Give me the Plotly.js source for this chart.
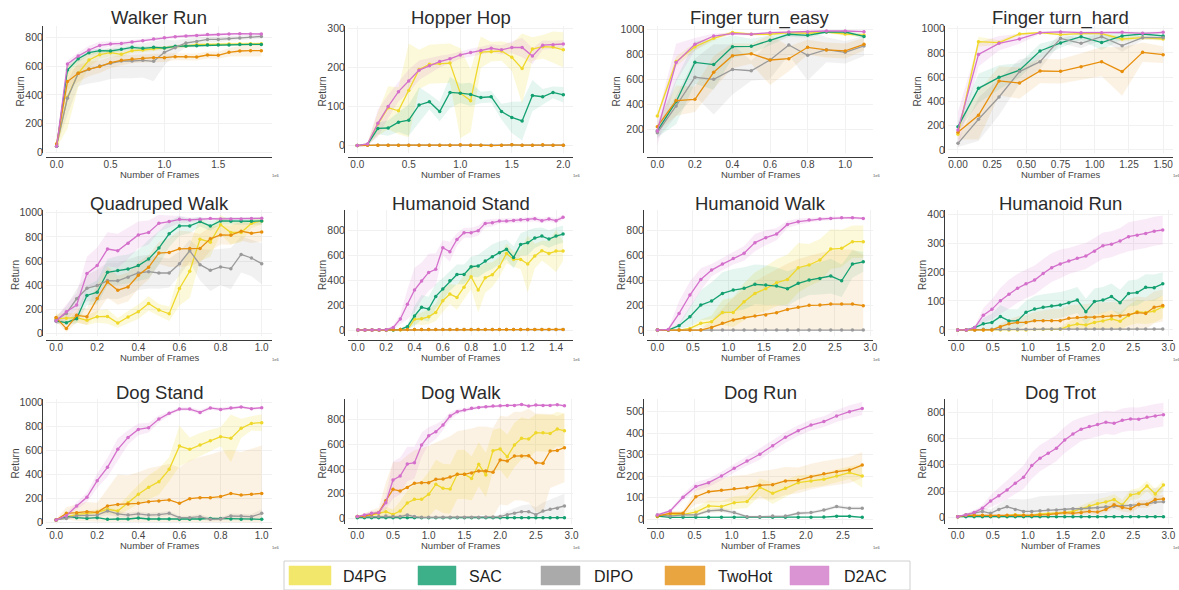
<!DOCTYPE html>
<html><head><meta charset="utf-8">
<script src="https://cdn.plot.ly/plotly-3.0.1.min.js"></script>
<style>html,body{margin:0;padding:0;background:#fff}#chart{width:1179px;height:590px}</style>
</head><body><div id="chart"></div>
<script>
// ---------------- DATA ----------------
const seriesNames = ['D4PG','SAC','DIPO','TwoHot','D2AC'];

// Walker Run
const wr_x = [0,0.1,0.2,0.3,0.4,0.5,0.6,0.7,0.8,0.9,1.0,1.1,1.2,1.3,1.4,1.5,1.6,1.7,1.8,1.9];
const wr_d4pg = [40,384,551,644,681,695,684,709,714,723,728,737,742,751,753,753,756,758,758,758];
const wr_d4pg_sd = [10,220,100,50,30,25,20,15,15,15,12,12,10,10,10,10,10,10,10,10];
const wr_sac = [40,574,653,695,709,707,719,733,726,733,728,740,742,744,749,749,749,753,753,753];
const wr_sac_sd = [10,30,25,20,15,15,12,12,12,10,10,10,10,10,8,8,8,8,8,8];
const wr_dipo = [51,377,551,579,602,621,637,637,642,635,698,730,763,774,788,788,793,798,805,809];
const wr_dipo_sd = [15,120,90,100,110,110,120,120,120,140,90,50,30,25,20,20,15,15,15,15];
const wr_twohot = [58,493,551,581,598,626,642,651,656,660,660,667,667,665,679,677,698,707,709,709];
const wr_twohot_sd = [15,60,60,50,45,40,35,30,30,30,30,25,25,25,25,25,30,35,40,40];
const wr_d2ac = [40,616,672,714,746,756,760,770,779,791,800,807,812,816,823,823,826,828,826,826];
const wr_d2ac_sd = [10,25,25,30,25,20,15,12,12,10,10,10,10,10,10,10,8,8,8,8];

// Hopper Hop
const hh_x = [0,0.1,0.2,0.3,0.4,0.5,0.6,0.7,0.8,0.9,1.0,1.1,1.2,1.3,1.4,1.5,1.6,1.7,1.8,1.9,2.0];
const hh_d4pg = [0,3,55,97,89,141,195,208,210,211,134,115,239,240,242,226,197,247,253,252,245];
const hh_d4pg_sd = [1,5,30,55,60,120,50,50,50,50,115,80,40,25,25,35,90,30,30,40,45];
const hh_sac = [0,3,44,45,60,65,104,112,87,136,134,131,123,125,87,72,63,128,125,136,130];
const hh_sac_sd = [1,4,15,20,25,40,45,20,25,40,25,30,15,15,20,40,50,40,20,15,20];
const hh_dipo = [0,1,1,1,1,1,1,1,1,1,1,1,1,1,1,2,1,1,1,1,1];
const hh_dipo_sd = [1,1,1,1,1,1,1,1,1,1,1,1,1,1,1,1,1,1,1,1,1];
const hh_twohot = [0,1,1,1,1,1,1,1,1,1,2,1,1,0,1,2,1,1,2,1,1];
const hh_twohot_sd = [1,1,1,1,1,1,1,1,1,1,1,1,1,1,1,1,1,1,1,1,1];
const hh_d2ac = [0,4,57,100,138,165,193,204,215,222,232,238,243,249,245,251,251,229,257,258,260];
const hh_d2ac_sd = [1,4,35,30,25,30,25,20,15,12,10,10,10,10,12,15,25,20,12,10,10];

// Finger turn_easy
const fe_x = [0,0.1,0.2,0.3,0.4,0.5,0.6,0.7,0.8,0.9,1.0,1.1];
const fe_d4pg = [306,740,859,926,973,958,958,971,966,976,960,952];
const fe_d4pg_sd = [20,40,30,20,10,10,10,8,8,8,15,15];
const fe_sac = [187,420,734,716,859,862,910,958,950,976,976,941];
const fe_sac_sd = [50,180,170,200,90,60,40,20,20,10,10,20];
const fe_dipo = [173,386,615,599,678,667,753,873,790,835,814,865];
const fe_dipo_sd = [50,80,150,280,200,80,150,80,200,100,90,80];
const fe_twohot = [221,429,439,655,787,803,753,763,854,833,825,878];
const fe_twohot_sd = [40,120,100,130,100,80,200,100,60,60,60,50];
const fe_d2ac = [187,732,878,944,963,958,971,976,976,984,984,979];
const fe_d2ac_sd = [120,150,50,20,10,10,8,8,8,8,8,8];

// Finger turn_hard
const fh_x = [0,0.15,0.3,0.45,0.6,0.75,0.9,1.05,1.2,1.35,1.5];
const fh_d4pg = [129,893,885,956,967,951,959,959,915,926,915];
const fh_d4pg_sd = [30,40,20,10,8,10,10,10,20,15,15];
const fh_sac = [192,508,599,657,816,882,934,885,940,956,940];
const fh_sac_sd = [40,120,100,60,60,40,30,60,30,20,20];
const fh_dipo = [55,253,437,646,728,920,879,934,860,926,926];
const fh_dipo_sd = [30,180,150,100,60,40,40,30,50,20,20];
const fh_twohot = [146,286,569,552,651,648,687,728,646,805,786];
const fh_twohot_sd = [60,200,120,130,100,100,110,120,200,80,70];
const fh_d2ac = [165,788,879,915,967,973,967,967,970,962,970];
const fh_d2ac_sd = [150,100,60,40,10,10,10,10,10,10,10];

// Quadruped Walk
const qw_x = [0,0.05,0.1,0.15,0.2,0.25,0.3,0.35,0.4,0.45,0.5,0.55,0.6,0.65,0.7,0.75,0.8,0.85,0.9,0.95,1.0];
const qw_d4pg = [123,126,132,110,140,142,88,137,181,249,195,164,373,515,781,756,901,836,836,912,932];
const qw_d4pg_sd = [40,40,40,40,50,60,40,50,60,60,50,60,140,220,180,120,80,100,80,40,30];
const qw_sac = [104,90,123,315,342,507,521,534,562,616,707,825,890,890,926,890,932,929,929,929,932];
const qw_sac_sd = [20,20,40,80,100,110,120,120,130,160,140,110,80,60,40,40,30,30,30,30,30];
const qw_dipo = [112,167,288,375,397,438,436,466,501,512,501,501,578,685,570,523,551,537,655,625,578];
const qw_dipo_sd = [30,60,80,110,130,150,150,150,140,140,130,120,100,90,130,170,150,170,150,150,170];
const qw_twohot = [132,41,151,140,290,427,359,386,482,548,666,671,701,704,704,784,816,814,847,830,841];
const qw_twohot_sd = [30,30,60,70,120,130,120,120,110,100,90,120,150,140,120,100,80,80,80,80,80];
const qw_d2ac = [104,181,236,496,562,699,685,748,816,836,912,926,945,940,945,951,948,948,948,951,953];
const qw_d2ac_sd = [30,60,100,140,150,140,140,130,110,100,70,50,30,20,15,10,10,10,10,10,10];

// Humanoid Stand
const hs_x = [0,0.05,0.1,0.15,0.2,0.25,0.3,0.35,0.4,0.45,0.5,0.55,0.6,0.65,0.7,0.75,0.8,0.85,0.9,0.95,1.0,1.05,1.1,1.15,1.2,1.25,1.3,1.35,1.4,1.45];
const hs_d4pg = [0,0,0,0,0,0,0,5,86,91,107,142,236,290,263,344,430,322,421,446,510,617,569,569,532,596,639,617,636,636];
const hs_d4pg_sd = [0,0,0,0,0,0,0,5,40,50,60,70,90,80,100,100,100,180,120,100,80,80,60,80,230,100,80,100,170,80];
const hs_sac = [0,0,0,0,0,0,5,27,113,183,169,271,330,397,448,448,510,516,556,591,623,650,585,690,703,741,757,733,757,773];
const hs_sac_sd = [0,0,0,0,0,0,5,20,80,100,100,100,90,80,80,80,80,90,90,100,90,80,90,90,100,80,70,70,70,70];
const hs_dipo = [0,0,0,0,0,4,4,4,4,4,4,4,4,4,4,4,4,4,4,4,4,4,4,4,4,4,4,4,4,4];
const hs_dipo_sd = [0,0,0,0,0,2,2,2,2,2,2,2,2,2,2,2,2,2,2,2,2,2,2,2,2,2,2,2,2,2];
const hs_twohot = [0,0,0,0,0,5,5,5,5,5,5,5,5,5,5,5,5,5,5,5,5,5,5,5,5,5,5,5,5,5];
const hs_twohot_sd = [0,0,0,0,0,2,2,2,2,2,2,2,2,2,2,2,2,2,2,2,2,2,2,2,2,2,2,2,2,2];
const hs_d2ac = [0,0,0,2,3,21,89,207,322,395,464,489,663,631,730,784,784,800,859,865,878,878,883,889,889,897,881,894,881,908];
const hs_d2ac_sd = [0,0,0,2,3,15,40,120,180,150,150,130,60,80,50,40,40,40,30,30,20,20,20,20,20,20,20,20,20,20];

// Humanoid Walk
const hw_x = [0,0.153,0.305,0.458,0.611,0.763,0.916,1.068,1.221,1.374,1.526,1.679,1.832,1.984,2.137,2.289,2.442,2.595,2.747,2.9];
const hw_d4pg = [0,0,0,13,54,67,142,142,228,295,333,381,408,502,524,564,652,658,712,712];
const hw_d4pg_sd = [0,0,0,10,30,50,100,120,150,170,180,190,200,200,170,170,160,150,130,130];
const hw_sac = [0,0,35,107,201,234,295,322,336,368,362,354,333,376,403,416,435,397,532,550];
const hw_sac_sd = [0,0,20,80,120,150,170,170,170,160,160,150,140,130,120,130,140,130,110,80];
const hw_dipo = [0,0,0,0,0,0,0,0,0,0,0,0,0,0,0,0,0,0,0,0];
const hw_dipo_sd = [1,1,1,1,1,1,1,1,1,1,1,1,1,1,1,1,1,1,1,1];
const hw_twohot = [0,0,0,0,0,21,54,81,99,113,121,140,166,183,199,201,209,209,209,196];
const hw_twohot_sd = [0,0,0,0,10,60,120,180,230,280,320,350,370,390,400,420,430,440,440,410];
const hw_d2ac = [0,5,134,282,408,483,531,577,618,704,744,773,851,873,886,894,899,905,905,899];
const hw_d2ac_sd = [0,5,100,110,90,50,50,50,60,70,60,50,30,25,20,15,15,10,10,10];

// Humanoid Run
const hr_x = [0,0.122,0.243,0.365,0.487,0.608,0.73,0.852,0.973,1.095,1.217,1.338,1.46,1.582,1.703,1.825,1.947,2.068,2.19,2.312,2.433,2.555,2.677,2.798,2.92];
const hr_d4pg = [0,0,0,0,0,0,0,0,0,2,2,2,2,14,20,17,26,31,38,30,50,63,60,65,80];
const hr_d4pg_sd = [0,0,0,0,0,0,0,0,0,2,3,5,8,15,20,20,25,30,30,30,35,40,40,40,40];
const hr_sac = [0,0,8,21,26,46,31,31,61,72,78,83,86,94,103,63,98,103,115,94,126,129,147,146,159];
const hr_sac_sd = [0,0,5,20,30,40,40,40,40,45,45,45,45,45,45,45,45,45,45,45,45,45,45,45,40];
const hr_dipo = [0,0,0,2,2,2,2,2,2,2,3,3,3,3,3,3,3,3,3,3,3,3,3,3,3];
const hr_dipo_sd = [0,0,0,2,2,2,2,2,2,2,2,2,2,2,2,2,2,2,2,2,2,2,2,2,2];
const hr_twohot = [0,0,0,0,0,11,21,26,26,32,32,32,32,40,43,44,44,46,48,48,52,60,57,78,84];
const hr_twohot_sd = [0,0,0,0,0,10,15,20,25,30,35,40,40,45,45,45,50,50,50,50,55,55,55,55,55];
const hr_d2ac = [0,0,8,51,71,101,123,144,159,172,195,215,228,238,247,255,272,291,296,307,322,327,333,341,345];
const hr_d2ac_sd = [0,0,5,25,35,45,50,50,50,50,50,50,50,45,45,45,45,45,45,45,50,50,50,50,50];

// Dog Stand
const ds_x = [0,0.05,0.1,0.15,0.2,0.25,0.3,0.35,0.4,0.45,0.5,0.55,0.6,0.65,0.7,0.75,0.8,0.85,0.9,0.95,1.0];
const ds_d4pg = [20,42,67,75,84,109,95,164,234,293,340,443,638,610,646,683,716,702,786,827,833];
const ds_d4pg_sd = [5,15,20,20,25,30,40,60,80,100,110,100,170,100,100,90,80,200,80,60,70];
const ds_sac = [20,47,39,33,39,25,28,28,36,28,28,28,25,25,28,33,31,28,25,28,25];
const ds_sac_sd = [5,10,10,8,8,8,8,8,8,8,8,8,8,8,8,10,10,10,8,8,8];
const ds_dipo = [20,33,56,56,61,95,70,61,70,61,64,75,39,39,47,25,28,53,53,47,75];
const ds_dipo_sd = [5,15,20,20,20,35,25,20,20,20,20,20,15,15,20,15,15,20,20,20,35];
const ds_twohot = [20,75,81,89,84,137,150,153,159,173,178,187,159,198,206,206,215,242,228,234,242];
const ds_twohot_sd = [5,50,70,80,80,150,250,240,260,280,290,300,300,320,340,360,380,360,360,380,400];
const ds_d2ac = [20,56,137,209,348,460,610,710,777,791,864,911,947,947,919,956,944,956,964,950,958];
const ds_d2ac_sd = [5,20,30,40,60,80,90,60,50,40,30,20,15,15,20,15,15,15,10,10,10];

// Dog Walk
const dw_x = [0,0.1,0.2,0.3,0.4,0.5,0.6,0.7,0.8,0.9,1.0,1.1,1.2,1.3,1.4,1.5,1.6,1.7,1.8,1.9,2.0,2.1,2.2,2.3,2.4,2.5,2.6,2.7,2.8,2.9];
const dw_d4pg = [14,14,27,41,54,32,59,124,154,154,195,276,243,238,357,357,324,438,351,549,562,500,595,649,643,695,695,689,724,711];
const dw_d4pg_sd = [5,10,15,30,40,40,80,100,120,150,180,200,200,200,200,200,180,180,180,170,170,180,180,170,160,150,150,150,140,140];
const dw_sac = [5,5,5,5,5,5,5,5,5,5,5,5,5,5,5,5,5,5,5,5,5,5,5,5,5,5,5,5,5,5];
const dw_sac_sd = [2,2,2,2,2,2,2,2,2,2,2,2,2,2,2,2,2,2,2,2,2,2,2,2,2,2,2,2,2,2];
const dw_dipo = [14,14,14,14,19,14,14,27,14,8,8,8,8,8,8,8,8,8,10,10,14,30,41,54,54,30,59,73,81,100];
const dw_dipo_sd = [5,5,5,8,10,10,10,15,10,5,5,5,5,5,5,5,5,5,8,10,15,30,40,50,60,60,70,80,90,100];
const dw_twohot = [14,19,35,46,143,235,222,251,284,289,289,316,319,335,357,357,368,384,384,373,473,465,505,505,508,451,446,546,551,573];
const dw_twohot_sd = [5,20,30,40,150,220,240,260,270,280,300,300,320,330,350,360,360,360,360,360,360,360,360,360,380,400,400,300,280,280];
const dw_d2ac = [14,27,41,46,127,311,343,441,451,595,670,703,757,830,865,878,892,900,905,911,913,916,916,924,911,919,916,916,922,913];
const dw_d2ac_sd = [5,10,15,20,60,150,150,140,130,100,70,60,40,30,20,15,15,12,12,10,10,10,10,10,10,10,10,10,10,10];

// Dog Run
const dr_x = [0,0.173,0.345,0.518,0.69,0.863,1.035,1.208,1.38,1.553,1.725,1.898,2.07,2.243,2.415,2.588,2.76];
const dr_d4pg = [12,20,23,33,62,59,77,82,149,121,144,170,178,186,201,217,201];
const dr_d4pg_sd = [5,8,10,20,25,25,30,30,40,50,40,35,30,30,30,30,55];
const dr_sac = [15,9,9,9,9,9,9,9,9,9,9,9,9,10,14,14,9];
const dr_sac_sd = [3,3,3,3,3,3,3,3,3,3,3,3,3,3,3,3,3];
const dr_dipo = [20,15,20,20,39,43,31,12,12,15,15,28,31,43,59,51,51];
const dr_dipo_sd = [5,5,5,5,10,10,10,5,5,5,5,8,8,8,8,8,8];
const dr_twohot = [15,28,28,105,128,135,142,147,158,161,178,181,198,211,221,229,252];
const dr_twohot_sd = [5,10,10,35,50,55,60,60,65,70,65,60,60,60,60,60,60];
const dr_d2ac = [20,39,102,152,170,201,237,271,302,342,381,412,438,454,480,500,515];
const dr_d2ac_sd = [5,8,15,20,20,20,20,22,25,25,25,25,25,25,28,30,30];

// Dog Trot
const dt_x = [0,0.117,0.234,0.352,0.469,0.586,0.703,0.82,0.938,1.055,1.172,1.289,1.406,1.524,1.641,1.758,1.875,1.992,2.11,2.227,2.344,2.461,2.578,2.696,2.813,2.93];
const dt_d4pg = [5,10,12,12,10,10,12,20,15,15,25,28,30,35,45,64,86,104,117,135,94,170,183,239,178,246];
const dt_d4pg_sd = [3,5,5,5,5,5,5,8,8,8,10,12,15,15,20,25,30,35,35,40,40,40,40,40,40,40];
const dt_sac = [5,5,5,5,5,5,5,5,5,5,5,5,5,5,5,5,5,5,5,5,5,5,5,5,5,5];
const dt_sac_sd = [2,2,2,2,2,2,2,2,2,2,2,2,2,2,2,2,2,2,2,2,2,2,2,2,2,2];
const dt_dipo = [5,20,30,45,30,60,80,60,45,45,50,55,55,60,65,65,70,72,80,85,85,90,95,100,115,118];
const dt_dipo_sd = [3,10,20,30,30,40,60,80,90,100,110,110,110,110,110,110,110,110,110,110,110,110,110,110,110,110];
const dt_twohot = [5,15,15,15,12,12,15,15,15,15,18,20,28,35,30,35,45,40,60,95,75,65,100,100,135,140];
const dt_twohot_sd = [3,8,8,8,8,8,8,8,8,10,10,12,12,15,15,15,20,20,25,30,30,30,30,30,30,30];
const dt_d2ac = [5,18,36,69,124,165,208,259,305,394,450,488,526,589,635,671,691,706,724,716,739,749,747,762,772,782];
const dt_d2ac_sd = [3,8,15,25,45,60,70,80,90,100,100,100,100,100,100,90,90,90,90,90,90,90,90,90,90,90];

// ---------------- STYLE / LAYOUT ----------------
const W = 1179, H = 590;
const FONT = 'Liberation Sans, Arial, Helvetica, sans-serif';
const lineColors = ['#efd82a','#13a071','#9a9a9a','#e78f0c','#d46fcb'];
const bandColors = ['rgba(240,222,50,0.18)','rgba(20,160,114,0.11)','rgba(150,150,150,0.13)','rgba(232,150,30,0.12)','rgba(212,111,203,0.13)'];
const patchColors = ['#f2e76b','#3daf89','#aaaaaa','#e9a640','#da93d3'];
const colX = [[46,272],[348,573],[647,873],[948,1173]];
const colSpine = [42,344,643,944];
const rowY = [[26,153],[210,336],[399,524]];
const rowSpine = [157,340,528];
const rowTitle = [18,203,392];

const panels = [
  {t:'Walker Run', x:wr_x, s:[[wr_d4pg,wr_d4pg_sd],[wr_sac,wr_sac_sd],[wr_dipo,wr_dipo_sd],[wr_twohot,wr_twohot_sd],[wr_d2ac,wr_d2ac_sd]], xr:[-0.099,1.999], yr:[-7,882], xd:0.5, yd:200, xf:'.1f'},
  {t:'Hopper Hop', x:hh_x, s:[[hh_d4pg,hh_d4pg_sd],[hh_sac,hh_sac_sd],[hh_dipo,hh_dipo_sd],[hh_twohot,hh_twohot_sd],[hh_d2ac,hh_d2ac_sd]], xr:[-0.09,2.094], yr:[-19,306], xd:0.5, yd:100, xf:'.1f'},
  {t:'Finger turn_easy', x:fe_x, s:[[fe_d4pg,fe_d4pg_sd],[fe_sac,fe_sac_sd],[fe_dipo,fe_dipo_sd],[fe_twohot,fe_twohot_sd],[fe_d2ac,fe_d2ac_sd]], xr:[-0.055,1.148], yr:[11,1024], xd:0.2, yd:200, xf:'.1f'},
  {t:'Finger turn_hard', x:fh_x, s:[[fh_d4pg,fh_d4pg_sd],[fh_sac,fh_sac_sd],[fh_dipo,fh_dipo_sd],[fh_twohot,fh_twohot_sd],[fh_d2ac,fh_d2ac_sd]], xr:[-0.073,1.572], yr:[-25,1022], xd:0.25, yd:200, xf:'.2f'},
  {t:'Quadruped Walk', x:qw_x, s:[[qw_d4pg,qw_d4pg_sd],[qw_sac,qw_sac_sd],[qw_dipo,qw_dipo_sd],[qw_twohot,qw_twohot_sd],[qw_d2ac,qw_d2ac_sd]], xr:[-0.049,1.05], yr:[-20,1022], xd:0.2, yd:200, xf:'.1f'},
  {t:'Humanoid Stand', x:hs_x, s:[[hs_d4pg,hs_d4pg_sd],[hs_sac,hs_sac_sd],[hs_dipo,hs_dipo_sd],[hs_twohot,hs_twohot_sd],[hs_d2ac,hs_d2ac_sd]], xr:[-0.07,1.52], yr:[-48,967], xd:0.2, yd:200, xf:'.1f'},
  {t:'Humanoid Walk', x:hw_x, s:[[hw_d4pg,hw_d4pg_sd],[hw_sac,hw_sac_sd],[hw_dipo,hw_dipo_sd],[hw_twohot,hw_twohot_sd],[hw_d2ac,hw_d2ac_sd]], xr:[-0.147,3.037], yr:[-48,967], xd:0.5, yd:200, xf:'.1f'},
  {t:'Humanoid Run', x:hr_x, s:[[hr_d4pg,hr_d4pg_sd],[hr_sac,hr_sac_sd],[hr_dipo,hr_dipo_sd],[hr_twohot,hr_twohot_sd],[hr_d2ac,hr_d2ac_sd]], xr:[-0.138,3.066], yr:[-21,414], xd:0.5, yd:100, xf:'.1f'},
  {t:'Dog Stand', x:ds_x, s:[[ds_d4pg,ds_d4pg_sd],[ds_sac,ds_sac_sd],[ds_dipo,ds_dipo_sd],[ds_twohot,ds_twohot_sd],[ds_d2ac,ds_d2ac_sd]], xr:[-0.049,1.05], yr:[-14,1031], xd:0.2, yd:200, xf:'.1f'},
  {t:'Dog Walk', x:dw_x, s:[[dw_d4pg,dw_d4pg_sd],[dw_sac,dw_sac_sd],[dw_dipo,dw_dipo_sd],[dw_twohot,dw_twohot_sd],[dw_d2ac,dw_d2ac_sd]], xr:[-0.13,3.02], yr:[-46,968], xd:0.5, yd:200, xf:'.1f'},
  {t:'Dog Run', x:dr_x, s:[[dr_d4pg,dr_d4pg_sd],[dr_sac,dr_sac_sd],[dr_dipo,dr_dipo_sd],[dr_twohot,dr_twohot_sd],[dr_d2ac,dr_d2ac_sd]], xr:[-0.14,2.905], yr:[-22,559], xd:0.5, yd:100, xf:'.1f'},
  {t:'Dog Trot', x:dt_x, s:[[dt_d4pg,dt_d4pg_sd],[dt_sac,dt_sac_sd],[dt_dipo,dt_dipo_sd],[dt_twohot,dt_twohot_sd],[dt_d2ac,dt_d2ac_sd]], xr:[-0.138,3.066], yr:[-51,901], xd:0.5, yd:200, xf:'.1f'}
];

const px = v => v / W;
const py = v => 1 - v / H;

const traces = [];
const layout = {
  width: W, height: H,
  margin: {l:0, r:0, t:0, b:0},
  paper_bgcolor: '#fff', plot_bgcolor: '#fff',
  showlegend: false,
  font: {family: FONT, color: '#333'},
  annotations: [], shapes: []
};

panels.forEach((p, i) => {
  const col = i % 4, row = Math.floor(i / 4);
  const n = i + 1;
  const xa = 'x' + n, ya = 'y' + n;
  const xk = n === 1 ? 'xaxis' : 'xaxis' + n;
  const yk = n === 1 ? 'yaxis' : 'yaxis' + n;
  layout[xk] = {
    domain: [px(colX[col][0]), px(colX[col][1])],
    range: p.xr, anchor: 'free', position: py(rowSpine[row]),
    showline: true, linecolor: '#3a3a3a', linewidth: 1.2,
    showgrid: true, gridcolor: '#f1f1f1', gridwidth: 1, zeroline: false,
    tickmode: 'linear', tick0: 0, dtick: p.xd, tickformat: p.xf,
    ticks: '', ticklabelstandoff: -2, tickfont: {size: 10, color: '#444', family: FONT},
    fixedrange: true
  };
  layout[yk] = {
    domain: [py(rowY[row][1]), py(rowY[row][0])],
    range: p.yr, anchor: 'free', position: px(colSpine[col]),
    showline: true, linecolor: '#3a3a3a', linewidth: 1.2,
    showgrid: true, gridcolor: '#f1f1f1', gridwidth: 1, zeroline: false,
    tickmode: 'linear', tick0: 0, dtick: p.yd,
    ticks: '', ticklabelstandoff: -3, tickfont: {size: 10.5, color: '#444', family: FONT},
    fixedrange: true
  };
  // bands
  p.s.forEach((pair, k) => {
    const m = pair[0], sd = pair[1];
    const hi = m.map((v, j) => v + sd[j]);
    const lo = m.map((v, j) => Math.max(0, v - sd[j]));
    traces.push({
      x: p.x.concat(p.x.slice().reverse()),
      y: hi.concat(lo.slice().reverse()),
      xaxis: xa, yaxis: ya, type: 'scatter', mode: 'lines',
      fill: 'toself', fillcolor: bandColors[k], line: {width: 0, color: 'rgba(0,0,0,0)'},
      hoverinfo: 'skip'
    });
  });
  // lines
  p.s.forEach((pair, k) => {
    traces.push({
      x: p.x, y: pair[0], xaxis: xa, yaxis: ya, type: 'scatter', mode: 'lines+markers',
      name: seriesNames[k],
      line: {color: lineColors[k], width: 1.3},
      marker: {color: lineColors[k], size: 3.5},
      cliponaxis: true
    });
  });
  // title
  layout.annotations.push({
    xref: 'paper', yref: 'paper', x: px((colX[col][0] + colX[col][1]) / 2), y: py(rowTitle[row]),
    xanchor: 'center', yanchor: 'middle', showarrow: false,
    text: p.t, font: {size: 18.5, color: '#2b2b2b', family: FONT}
  });
  // axis titles
  layout.annotations.push({
    xref: 'paper', yref: 'paper', x: px((colX[col][0] + colX[col][1]) / 2), y: py(rowSpine[row] + 17.5),
    xanchor: 'center', yanchor: 'middle', showarrow: false,
    text: 'Number of Frames', font: {size: 9.5, color: '#444', family: FONT}
  });
  const yOff = p.yr[1] >= 1000 ? 27 : 22;
  layout.annotations.push({
    xref: 'paper', yref: 'paper', x: px(colSpine[col] - yOff), y: py((rowY[row][0] + rowY[row][1]) / 2 + 2),
    xanchor: 'center', yanchor: 'middle', showarrow: false, textangle: -90,
    text: 'Return', font: {size: 10, color: '#444', family: FONT}
  });
  // 1e6 offset label
  layout.annotations.push({
    xref: 'paper', yref: 'paper', x: px(colX[col][1] + 3), y: py(rowSpine[row] + 19),
    xanchor: 'center', yanchor: 'middle', showarrow: false,
    text: '1e6', font: {size: 4, color: '#555', family: FONT}
  });
});

// Legend (drawn manually)
layout.shapes.push({type: 'rect', xref: 'paper', yref: 'paper',
  x0: px(284), x1: px(910), y0: py(590), y1: py(561),
  line: {color: '#d0d0d0', width: 1}, fillcolor: 'rgba(255,255,255,0.9)'});
const legPatch = [[289,331],[418,456],[541,580],[665,705],[790,829]];
const legText = [341,467,592,716,842];
seriesNames.forEach((nm, k) => {
  layout.shapes.push({type: 'rect', xref: 'paper', yref: 'paper',
    x0: px(legPatch[k][0]), x1: px(legPatch[k][1]), y0: py(585), y1: py(566),
    line: {color: patchColors[k], width: 0.5}, fillcolor: patchColors[k]});
  layout.annotations.push({xref: 'paper', yref: 'paper', x: px(legText[k]), y: py(576),
    xanchor: 'left', yanchor: 'middle', showarrow: false, text: nm,
    font: {size: 16, color: '#222', family: FONT}});
});

Plotly.newPlot('chart', traces, layout, {staticPlot: true, displayModeBar: false});
</script>
</body></html>
